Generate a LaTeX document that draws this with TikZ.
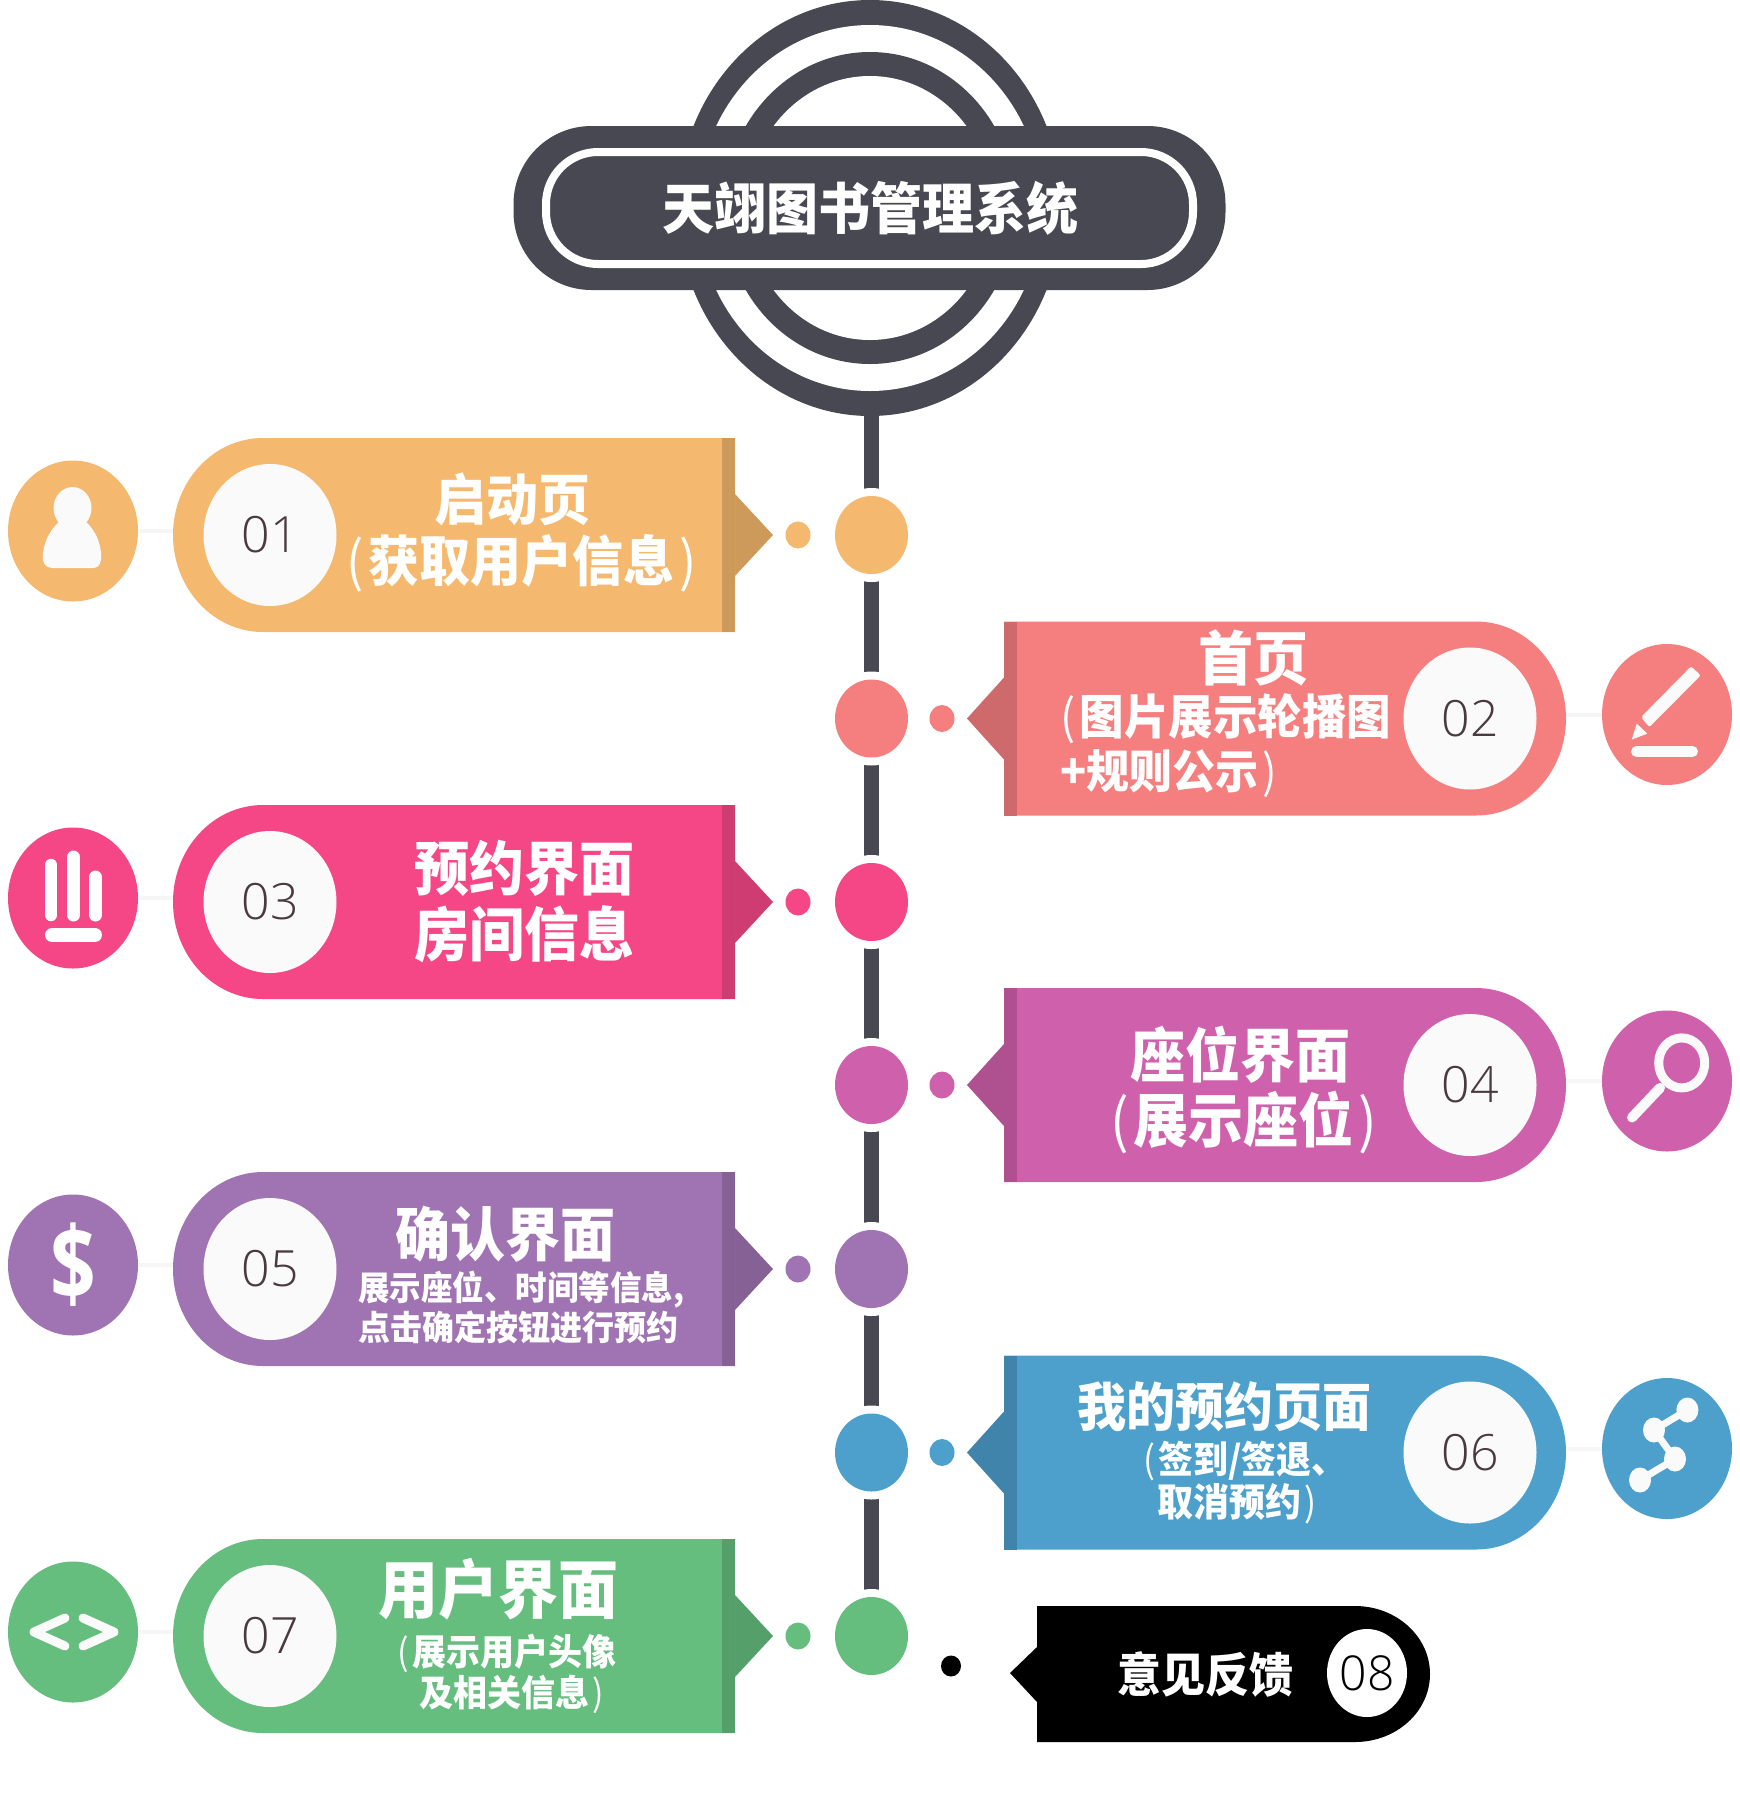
\documentclass[tikz,border=0pt]{standalone}
\usepackage{fontspec}
\usepackage{graphicx}
\usetikzlibrary{shapes.geometric}
\newfontfamily\cjkfont[BoldFont={Noto Sans CJK SC Black}]{Noto Sans CJK SC}
\newfontfamily\numfont{Open Sans Light}
\newfontfamily\dollarfont{Open Sans}
\definecolor{ink}{HTML}{474852}
\definecolor{numink}{HTML}{4A3A40}
\definecolor{paper}{HTML}{FAFAFA}
\definecolor{faint}{HTML}{F6F6F6}
\definecolor{cA}{HTML}{F4B96E}\definecolor{dA}{HTML}{CE9A5C}
\definecolor{cB}{HTML}{F47F7E}\definecolor{dB}{HTML}{CE6A6B}
\definecolor{cC}{HTML}{F54786}\definecolor{dC}{HTML}{CF3C71}
\definecolor{cD}{HTML}{CF60AB}\definecolor{dD}{HTML}{AF5190}
\definecolor{cE}{HTML}{A074B3}\definecolor{dE}{HTML}{866196}
\definecolor{cF}{HTML}{4DA0CB}\definecolor{dF}{HTML}{4184AB}
\definecolor{cG}{HTML}{65BD7E}\definecolor{dG}{HTML}{55A06A}
\newcommand{\tall}[1]{\scalebox{1}[1.07]{#1}}
\newcommand{\lp}{{\mdseries(}\kern.09em}
\newcommand{\rp}{\kern.09em{\mdseries)}}
\tikzset{
  ttl/.style={font=\cjkfont\bfseries\fontsize{#1}{#1}\selectfont,text=white,inner sep=0pt,anchor=center},
  hub/.style={ellipse,inner sep=0pt,minimum width=73pt,minimum height=78pt,fill=#1},
  halo/.style={ellipse,inner sep=0pt,minimum width=88pt,minimum height=94pt,fill=white},
  pip/.style={ellipse,inner sep=0pt,minimum width=25pt,minimum height=27pt,fill=#1},
  badge/.style={ellipse,inner sep=0pt,minimum width=130pt,minimum height=141pt,fill=#1},
  disc/.style={ellipse,inner sep=0pt,minimum width=133pt,minimum height=142pt,fill=paper,text=numink,
     font=\numfont\fontsize{50}{50}\selectfont},
  ring/.style={ellipse,inner sep=0pt},
  spine/.style={draw=ink,line width=15pt},
  wire/.style={draw=faint,line width=4pt},
  glyph/.style={draw=white,line cap=round,line join=round},
}
% #1 name, #2 centre y, #3 colour, #4 dark, #5 number
\newcommand{\lefttag}[5]{%
  \fill[#4] (735,#2-41) -- (773,#2) -- (735,#2+41) -- cycle;
  \fill[#3] (735,#2-97) -- (263,#2-97) arc[start angle=90,end angle=270,x radius=90pt,y radius=97pt] -- (735,#2+97) -- cycle;
  \fill[#4] (722,#2-97) rectangle (735,#2+97);
  \node[disc] (d#1) at (270,#2) {#5};
  \node[pip=#3] (p#1) at (798,#2) {};
  \node[badge=#3] (b#1) at (73,#2-4) {};
  \coordinate (e#1) at (173,#2-4);
  \draw[wire] (b#1) -- (e#1);
}
\newcommand{\righttag}[5]{%
  \fill[#4] (1004,#2-41) -- (967,#2) -- (1004,#2+41) -- cycle;
  \fill[#3] (1004,#2-97) -- (1476,#2-97) arc[start angle=90,end angle=-90,x radius=90pt,y radius=97pt] -- (1004,#2+97) -- cycle;
  \fill[#4] (1004,#2-97) rectangle (1017,#2+97);
  \node[disc] (d#1) at (1470,#2) {#5};
  \node[pip=#3] (p#1) at (942,#2) {};
  \node[badge=#3] (b#1) at (1667,#2-4) {};
  \coordinate (e#1) at (1566,#2-4);
  \draw[wire] (e#1) -- (b#1);
}
\begin{document}
\begin{tikzpicture}[x=1pt,y=-1pt]
\useasboundingbox (0,0) rectangle (1740,1797);
\fill[white] (0,0) rectangle (1740,1797);
% emblem
\node[ring,fill=ink,minimum width=384pt,minimum height=416pt] (r1) at (870,208) {};
\node[ring,fill=white,minimum width=344pt,minimum height=366pt] (r2) at (870,208) {};
\node[ring,fill=ink,minimum width=292pt,minimum height=312pt] (r3) at (870,208) {};
\node[ring,fill=white,minimum width=246pt,minimum height=264pt] (r4) at (870,208) {};
% spine
\coordinate (s0) at (871.5,405);
\coordinate (s1) at (871.5,535);
\coordinate (s2) at (871.5,718.5);
\coordinate (s3) at (871.5,902);
\coordinate (s4) at (871.5,1085);
\coordinate (s5) at (871.5,1269);
\coordinate (s6) at (871.5,1452.5);
\coordinate (s7) at (871.5,1636);
\draw[spine] (s0) -- (s7);
\node[halo] (h1) at (s1) {};
\node[halo] (h2) at (s2) {};
\node[halo] (h3) at (s3) {};
\node[halo] (h4) at (s4) {};
\node[halo] (h5) at (s5) {};
\node[halo] (h6) at (s6) {};
\node[halo] (h7) at (s7) {};
\node[hub=cA] (c1) at (s1) {};
\node[hub=cB] (c2) at (s2) {};
\node[hub=cC] (c3) at (s3) {};
\node[hub=cD] (c4) at (s4) {};
\node[hub=cE] (c5) at (s5) {};
\node[hub=cF] (c6) at (s6) {};
\node[hub=cG] (c7) at (s7) {};
% title bar
\node[fill=ink,rounded corners=78pt,minimum width=712pt,minimum height=164pt,inner sep=0pt] (bar) at (869.5,208) {};
\node[draw=white,line width=8pt,rounded corners=52pt,minimum width=647pt,minimum height=112pt,inner sep=0pt] (barline) at (869.5,208) {};
\node[ttl=52] (title) at (870,208) {\tall{天翊图书管理系统}};
% tags
\lefttag{1}{535}{cA}{dA}{01}
\righttag{2}{718.5}{cB}{dB}{02}
\lefttag{3}{902}{cC}{dC}{03}
\righttag{4}{1085}{cD}{dD}{04}
\lefttag{5}{1269}{cE}{dE}{05}
\righttag{6}{1452.5}{cF}{dF}{06}
\lefttag{7}{1636}{cG}{dG}{07}
% tag 8
\fill[black] (1037,1647) -- (1010,1673) -- (1037,1702) -- cycle;
\fill[black] (1037,1606) -- (1355,1606) arc[start angle=90,end angle=-90,x radius=75pt,y radius=68pt] -- (1037,1742) -- cycle;
\node[ellipse,inner sep=0pt,minimum width=80pt,minimum height=88pt,fill=white,text=black,font=\numfont\fontsize{48}{48}\selectfont] (d8) at (1367,1673) {08};
\node[pip=black,minimum width=20pt,minimum height=21pt] (p8) at (951,1666) {};
% texts
\node[ttl=52] (t1a) at (512,499) {\tall{启动页}};
\node[ttl=51] (t1b) at (521.5,563) {\tall{\lp 获取用户信息\rp}};
\node[ttl=55] (t2a) at (1253,658) {\tall{首页}};
\node[ttl=44.5] (t2b) at (1226,718.6) {\tall{\lp 图片展示轮播图}};
\node[ttl=43] (t2c) at (1169,774) {\tall{+规则公示\rp}};
\node[ttl=55] (t3a) at (524.5,868) {\tall{预约界面}};
\node[ttl=55] (t3b) at (524.5,934) {\tall{房间信息}};
\node[ttl=55] (t4a) at (1240,1054.5) {\tall{座位界面}};
\node[ttl=55] (t4b) at (1243.6,1123) {\tall{\lp 展示座位\rp}};
\node[ttl=55] (t5a) at (505.5,1234.5) {\tall{确认界面}};
\node[ttl=31.5] (t5b) at (521.5,1289.5) {\tall{展示座位、时间等信息,}};
\node[ttl=32] (t5c) at (518,1327) {\tall{点击确定按钮进行预约}};
\node[ttl=49] (t6a) at (1224.6,1407) {\tall{我的预约页面}};
\node[ttl=35] (t6b) at (1245,1461) {\tall{\lp 签到/签退、}};
\node[ttl=36] (t6c) at (1237,1504) {\tall{取消预约\rp}};
\node[ttl=60] (t7a) at (498.6,1589) {\tall{用户界面}};
\node[ttl=34] (t7b) at (507,1653) {\tall{\lp 展示用户头像}};
\node[ttl=34] (t7c) at (512,1694) {\tall{及相关信息\rp}};
\node[ttl=44] (t8) at (1205,1674) {\tall{意见反馈}};
% icon 01 person
\fill[paper] (72.5,508) ellipse[x radius=19pt,y radius=21pt];
\fill[paper] (61,520) -- (84,520) .. controls (98,532) and (102,548) .. (101,560)
  .. controls (100,566) and (97,568) .. (92,568) -- (53,568)
  .. controls (47,568) and (44,565) .. (43,560) .. controls (42,548) and (47,532) .. (61,520) -- cycle;
% icon 02 pencil
\fill[paper,rounded corners=2pt] (1691,666.4) -- (1700.7,675.4) -- (1649.3,727.1) -- (1641,717.1) -- cycle;
\fill[paper] (1631.7,739.6) -- (1636.7,723.6) -- (1647.3,733.6) -- cycle;
\draw[glyph,draw=paper,line width=11pt] (1636.5,751.5) -- (1692.5,751.5);
% icon 03 bars
\draw[glyph,draw=white,line width=12.5pt] (51,865) -- (51,915);
\draw[glyph,draw=white,line width=13pt] (73.5,857) -- (73.5,915);
\draw[glyph,draw=white,line width=13pt] (95.5,877) -- (95.5,915);
\draw[glyph,draw=white,line width=14pt] (52,935) -- (95,935);
% icon 04 magnifier
\draw[paper,line width=9pt] (1681.7,1062.9) ellipse[x radius=23pt,y radius=25pt];
\draw[glyph,draw=paper,line width=10pt] (1660,1087.9) -- (1632,1117.5);
% icon 05 dollar
\node[inner sep=0pt,text=white,font=\dollarfont\bfseries\fontsize{80}{80}\selectfont] (dollar) at (73,1265) {\scalebox{1}[1.28]{\$}};
% icon 06 share
\draw[paper,line width=7pt] (1687.4,1410) -- (1654,1430) -- (1675,1459) -- (1640,1480);
\fill[paper] (1687.4,1410) ellipse[x radius=11pt,y radius=12.5pt];
\fill[paper] (1654,1430) ellipse[x radius=11pt,y radius=12.5pt];
\fill[paper] (1675,1459) ellipse[x radius=11pt,y radius=12.5pt];
\fill[paper] (1640,1480) ellipse[x radius=11pt,y radius=12.5pt];
% icon 07 code
\draw[glyph,draw=paper,line width=9pt] (65,1618) -- (34,1632) -- (65,1646);
\draw[glyph,draw=paper,line width=9pt] (83,1618) -- (114,1632) -- (83,1646);
\end{tikzpicture}
\end{document}
